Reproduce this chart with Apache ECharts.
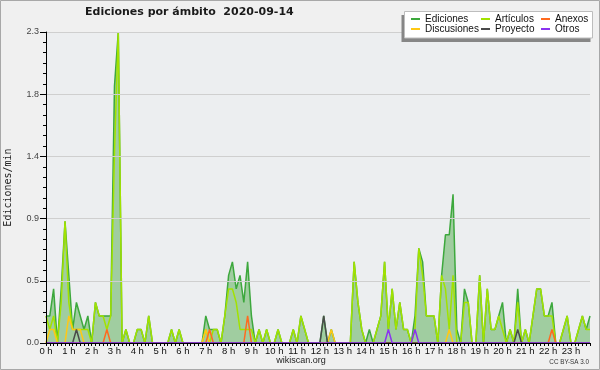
<!DOCTYPE html>
<html>
<head>
<meta charset="utf-8">
<script src="https://cdn.jsdelivr.net/npm/echarts@6/dist/echarts.min.js"></script>
<style>html,body{margin:0;padding:0;background:#f0f0f0;}#c{width:600px;height:370px;}</style>
</head>
<body>
<div id="c"></div>
<script>
const chartTitle = 'Ediciones por ámbito  2020-09-14';
const hourLabels = ['0 h','1 h','2 h','3 h','4 h','5 h','6 h','7 h','8 h','9 h','10 h','11 h','12 h','13 h','14 h','15 h','16 h','17 h','18 h','19 h','20 h','21 h','22 h','23 h'];
const seriesNames = ['Ediciones','Artículos','Anexos','Discusiones','Proyecto','Otros'];
const yTickValues = [0, 0.46, 0.92, 1.38, 1.84, 2.3];

// one value every 10 minutes (edits per minute)
const ediciones = [
 0.2,0.2,0.4,0,0.4,0.9,0.5,0.1,0.3,0.2,0.1,0.2,
 0,0.3,0.2,0.2,0.2,0.2,1.9,2.3,0,0.1,0,0,
 0.1,0.1,0,0.2,0,0,0,0,0,0.1,0,0.1,
 0,0,0,0,0,0,0.2,0.1,0.1,0.1,0,0.2,
 0.5,0.6,0.4,0.5,0.3,0.6,0.2,0,0.1,0,0.1,0,
 0,0.1,0,0,0,0.1,0,0.2,0.1,0,0,0,
 0,0.2,0,0.1,0,0,0,0,0,0.6,0.3,0.1,
 0,0.1,0,0.1,0.2,0.6,0.1,0.4,0.1,0.3,0.1,0.1,
 0,0.2,0.7,0.6,0.2,0.2,0.2,0,0.5,0.8,0.8,1.1,
 0.1,0,0.4,0.3,0,0,0.5,0,0.4,0.1,0.1,0.2,
 0.3,0,0.1,0,0.4,0,0.1,0,0.2,0.4,0.4,0.2,
 0.2,0.3,0,0,0.1,0.2,0,0,0.1,0.2,0.1,0.2
];
const articulos = [
 0.2,0.1,0.2,0,0.3,0.9,0.3,0.1,0.1,0.1,0.1,0.1,
 0,0.3,0.2,0.2,0.1,0.2,1.4,2.3,0,0.1,0,0,
 0.1,0.1,0,0.2,0,0,0,0,0,0.1,0,0.1,
 0,0,0,0,0,0,0.1,0,0.1,0.1,0,0.2,
 0.4,0.4,0.3,0.1,0.1,0.1,0.1,0,0.1,0,0.1,0,
 0,0.1,0,0,0,0.1,0,0.2,0.1,0,0,0,
 0,0,0,0,0,0,0,0,0,0.6,0.3,0.1,
 0,0,0,0.1,0.2,0.6,0.1,0.4,0.1,0.3,0.1,0.1,
 0,0.1,0.7,0.5,0.2,0.2,0.2,0,0.5,0.4,0.1,0.5,
 0,0,0.3,0.3,0,0,0.5,0,0.4,0.1,0.1,0.2,
 0.1,0,0.1,0,0.3,0,0.1,0,0.2,0.4,0.4,0.2,
 0.2,0.2,0,0,0.1,0.2,0,0,0.1,0.2,0.1,0.1
];
const discusiones = [
 0,0.1,0.1,0,0,0,0.2,0.1,0.1,0.1,0,0,
 0,0,0,0,0,0,0,0,0,0,0,0,
 0,0,0,0,0,0,0,0,0,0,0,0,
 0,0,0,0,0,0,0.1,0,0,0,0,0,
 0,0,0,0,0,0,0,0,0,0,0,0,
 0,0,0,0,0,0,0,0,0,0,0,0,
 0,0,0,0.1,0,0,0,0,0,0,0,0,
 0,0,0,0,0,0,0,0,0,0,0,0,
 0,0,0,0,0,0,0,0,0,0,0.1,0,
 0,0,0,0,0,0,0,0,0,0,0,0,
 0,0,0,0,0,0,0,0,0,0,0,0,
 0,0,0,0,0,0,0,0,0,0,0,0
];
const anexos = [
 0,0,0,0,0,0,0,0,0,0,0,0,
 0,0,0,0,0.1,0,0,0,0,0,0,0,
 0,0,0,0,0,0,0,0,0,0,0,0,
 0,0,0,0,0,0,0,0.1,0,0,0,0,
 0,0,0,0,0,0.2,0,0,0,0,0,0,
 0,0,0,0,0,0,0,0,0,0,0,0,
 0,0,0,0,0,0,0,0,0,0,0,0,
 0,0,0,0,0,0,0,0,0,0,0,0,
 0,0,0,0,0,0,0,0,0,0,0,0,
 0,0,0,0,0,0,0,0,0,0,0,0,
 0,0,0,0,0,0,0,0,0,0,0,0,
 0,0.1,0,0,0,0,0,0,0,0,0,0
];
const proyecto = [
 0,0,0,0,0,0,0,0,0.1,0,0,0,
 0,0,0,0,0,0,0,0,0,0,0,0,
 0,0,0,0,0,0,0,0,0,0,0,0,
 0,0,0,0,0,0,0,0,0,0,0,0,
 0,0,0,0,0,0,0,0,0,0,0,0,
 0,0,0,0,0,0,0,0,0,0,0,0,
 0,0.2,0,0,0,0,0,0,0,0,0,0,
 0,0,0,0,0,0,0,0,0,0,0,0,
 0,0,0,0,0,0,0,0,0,0,0,0,
 0,0,0,0,0,0,0,0,0,0,0,0,
 0,0,0,0,0.1,0,0,0,0,0,0,0,
 0,0,0,0,0,0,0,0,0,0,0,0
];
const otros = [
 0,0,0,0,0,0,0,0,0,0,0,0,
 0,0,0,0,0,0,0,0,0,0,0,0,
 0,0,0,0,0,0,0,0,0,0,0,0,
 0,0,0,0,0,0,0,0,0,0,0,0,
 0,0,0,0,0,0,0,0,0,0,0,0,
 0,0,0,0,0,0,0,0,0,0,0,0,
 0,0,0,0,0,0,0,0,0,0,0,0,
 0,0,0,0,0,0,0.1,0,0,0,0,0,
 0,0.1,0,0,0,0,0,0,0,0,0,0,
 0,0,0,0,0,0,0,0,0,0,0,0,
 0,0,0,0,0,0,0,0,0,0,0,0,
 0,0,0,0,0,0,0,0,0,0,0,0
];

const categories = [];
hourLabels.forEach(h => { for (let k = 0; k < 6; k++) categories.push(k === 0 ? h : ''); });

const colors = {
  'Ediciones': '#3da83d',
  'Artículos': '#a2e200',
  'Anexos': '#ff6a1f',
  'Discusiones': '#ffc814',
  'Proyecto': '#4a4a4a',
  'Otros': '#8a33f0'
};
const dataByName = {
  'Ediciones': ediciones, 'Artículos': articulos, 'Anexos': anexos,
  'Discusiones': discusiones, 'Proyecto': proyecto, 'Otros': otros
};
const drawOrder = ['Ediciones','Artículos','Discusiones','Anexos','Proyecto','Otros'];

const series = drawOrder.map((name, idx) => {
  const s = {
    name: name, type: 'line', data: dataByName[name],
    showSymbol: false, symbol: 'none', animation: false,
    lineStyle: { color: colors[name], width: 1.5 },
    itemStyle: { color: colors[name] },
    z: 2 + idx
  };
  if (name === 'Ediciones') s.areaStyle = { color: '#a0cda0', opacity: 1 };
  return s;
});

const legendCommon = {
  orient: 'vertical', padding: 0, itemGap: 0, itemWidth: 9, itemHeight: 2,
  icon: 'rect', selectedMode: false,
  textStyle: { fontFamily: 'Liberation Sans', fontSize: 10, color: '#111', lineHeight: 10 }
};

const chart = echarts.init(document.getElementById('c'), null, { renderer: 'canvas' });
chart.setOption({
  backgroundColor: '#f0f0f0',
  animation: false,
  title: {
    text: chartTitle, left: 85, top: 7, padding: 0,
    textStyle: { fontFamily: 'DejaVu Sans', fontWeight: 'bold', fontSize: 11, color: '#1a1a1a' }
  },
  graphic: [
    { type: 'rect', shape: { x: 0.5, y: 0.5, width: 599, height: 369 }, style: { fill: 'none', stroke: '#a8a8a8', lineWidth: 1 }, z: 100 },
    { type: 'rect', shape: { x: 401.5, y: 15, width: 189, height: 27 }, style: { fill: '#868686' }, z: 50 },
    { type: 'rect', shape: { x: 404.5, y: 11.5, width: 188, height: 26.5 }, style: { fill: '#ffffff', stroke: '#bdbdbd', lineWidth: 1 }, z: 51 },
    { type: 'text', x: 301, y: 361, style: { text: 'wikiscan.org', font: '9px "Liberation Sans"', fill: '#222', align: 'center', verticalAlign: 'middle' }, z: 60 },
    { type: 'text', x: 589, y: 362, style: { text: 'CC BY-SA 3.0', font: '6.3px "Liberation Sans"', fill: '#333', align: 'right', verticalAlign: 'middle' }, z: 60 }
  ],
  legend: [
    Object.assign({ data: ['Ediciones','Discusiones'], left: 411, top: 14, z: 60 }, legendCommon),
    Object.assign({ data: ['Artículos','Proyecto'], left: 481, top: 14, z: 60 }, legendCommon),
    Object.assign({ data: ['Anexos','Otros'], left: 541, top: 14, z: 60 }, legendCommon)
  ],
  grid: {
    left: 46, right: 10, top: 32, bottom: 27, outerBoundsMode: 'none', containLabel: false,
    show: true, backgroundColor: '#eceef0', borderWidth: 0
  },
  xAxis: {
    type: 'category', data: categories, boundaryGap: false, z: 10,
    axisLine: { lineStyle: { color: '#000', width: 1 } },
    axisTick: { interval: 0, length: 3, lineStyle: { color: '#000' } },
    axisLabel: { interval: 5, margin: 3, fontFamily: 'Liberation Sans', fontSize: 9.5, color: '#111' },
    splitLine: { show: false }
  },
  yAxis: {
    type: 'value', min: 0, max: 2.3, interval: 0.46, z: 10,
    name: 'Ediciones/min', nameLocation: 'middle', nameRotate: 90, nameGap: 33,
    nameTextStyle: { fontFamily: 'DejaVu Sans Mono', fontSize: 10, color: '#222' },
    axisLine: { show: true, lineStyle: { color: '#000', width: 1 } },
    axisTick: { show: true, length: 6, lineStyle: { color: '#000' } },
    minorTick: { show: true, splitNumber: 6, length: 3, lineStyle: { color: '#000' } },
    axisLabel: { margin: 7, fontFamily: 'Liberation Sans', fontSize: 9, color: '#444',
      formatter: v => v.toFixed(1) },
    splitLine: { show: true, lineStyle: { color: '#cfcfcf', width: 1 } }
  },
  series: series
});
</script>
</body>
</html>
